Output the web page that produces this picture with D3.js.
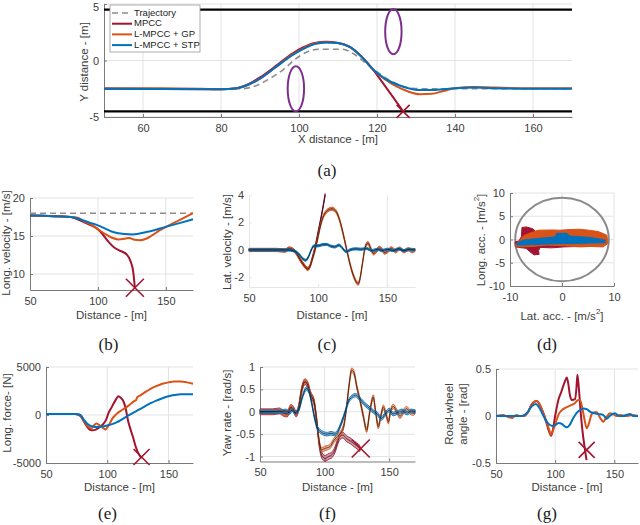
<!DOCTYPE html>
<html>
<head>
<meta charset="utf-8">
<script src="https://cdn.jsdelivr.net/npm/d3@7"></script>
<style>
body { margin: 0; background: #fff; }
svg text { font-family: "Liberation Sans", Arial, sans-serif; fill: #404040; }
svg text.cap { font-family: "Liberation Serif", "DejaVu Serif", serif; fill: #1a1a1a; }
</style>
</head>
<body>
<svg width="640" height="525"></svg>
<script>
var colMPCC = "#A2142F", colGP = "#D95319", colSTP = "#0072BD", colTraj = "#8c8c8c";

// (a) path in the X-Y plane
var aTraj = [[50,-2.5],[85,-2.5],[88,-2.35],[92,-1.7],[96,-0.8],[99,0.1],[102,0.75],[105,1.0],[111,1.0],[114,0.6],[117,-0.2],[120,-1.0],[123,-1.7],[126,-2.2],[129,-2.45],[132,-2.5],[170,-2.5]];
var aMPCC = [[50,-2.5],[80,-2.55],[84,-2.45],[87,-2.1],[90,-1.5],[94,-0.5],[98,0.55],[101,1.15],[104,1.55],[107,1.65],[110,1.55],[113,1.2],[116,0.35],[119,-0.8],[120,-1.27],[126.7,-4.5]];
var aGP = [[50,-2.45],[65,-2.45],[75,-2.5],[80,-2.55],[84,-2.45],[87,-2.15],[90,-1.6],[94,-0.6],[98,0.45],[101,1.05],[104,1.5],[107,1.62],[110,1.55],[113,1.2],[116,0.35],[119,-0.8],[122,-1.65],[125,-2.3],[128,-2.75],[131,-2.98],[134,-2.95],[137,-2.7],[140,-2.45],[145,-2.35],[150,-2.4],[160,-2.45],[170,-2.45]];
var aSTP = [[50,-2.5],[78,-2.55],[83,-2.5],[87,-2.15],[90,-1.6],[94,-0.6],[98,0.4],[101,1.0],[104,1.45],[107,1.6],[110,1.55],[113,1.2],[116,0.35],[119,-0.8],[122,-1.6],[125,-2.1],[128,-2.45],[131,-2.62],[135,-2.6],[140,-2.45],[145,-2.4],[150,-2.45],[160,-2.5],[170,-2.5]];
var aRoad = [4.5, -4.5];
var aObstacles = [[99.2,-2.5],[124.2,2.55]];
var aObsRadius = [2.1, 2.0];
var aCrash = [[126.7,-4.5]];
var legendNames = ["Trajectory", "MPCC", "L-MPCC + GP", "L-MPCC + STP"];

// (b) longitudinal velocity
var bRef = [[50,18],[170,18]];
var bMPCC = [[50,17.7],[80,17.5],[85,17.2],[90,16.8],[95,16.4],[100,15.9],[104,15.1],[108,14.2],[112,13.5],[117,13.0],[121,12.6],[124,11.7],[126,10.3],[127.2,8.2]];
var bGP = [[50,17.7],[80,17.5],[85,17.4],[90,16.9],[95,16.5],[100,15.9],[105,15.3],[110,14.8],[115,14.55],[120,14.65],[123,14.75],[127,14.5],[131,14.45],[135,14.6],[140,15.1],[145,15.7],[150,16.2],[160,17.1],[170,18.0]];
var bSTP = [[50,17.7],[80,17.5],[85,17.3],[90,17.0],[95,16.7],[100,16.4],[105,16.0],[110,15.6],[115,15.35],[120,15.25],[125,15.2],[130,15.3],[135,15.5],[140,15.7],[145,15.95],[150,16.2],[160,16.7],[170,17.2]];
var bCrash = [[127.2,8.2]];

// (c) lateral velocity
var cMPCC = [[50,0],[70,0],[76,-0.05],[79,0.1],[81,0.05],[84,-0.2],[87,-0.7],[90,-1.15],[92.5,-1.38],[94,-1.2],[96,-0.5],[98,0.3],[100,1.3],[102,2.3],[104,3.4],[105,4.0]];
var cGP = [[50,0],[70,0],[76,-0.05],[79,0.1],[81,0.05],[84,-0.2],[87,-0.7],[90,-1.15],[92.5,-1.38],[94,-1.2],[96,-0.6],[98,0.1],[100,1.0],[102,1.9],[104,2.5],[106,2.8],[108,2.95],[110,3.0],[112,2.9],[114,2.6],[116,2.0],[118,1.2],[120,0.3],[122,-0.6],[124,-1.4],[126,-2.0],[128,-2.4],[129,-2.45],[130,-2.2],[132,-1.0],[134,0.2],[136,0.5],[138,0.1],[140,-0.25],[142,-0.1],[144,0.15],[146,0.05],[148,-0.2],[150,-0.1],[153,0.12],[156,-0.1],[159,0.1],[162,-0.1],[165,0.05],[168,-0.08],[170,0]];
var cSTP = [[50,0],[78,0],[82,-0.05],[86,-0.3],[89,-0.65],[91,-0.75],[93,-0.5],[95,0],[97,0.3],[100,0.3],[103,0.38],[106,0.4],[109,0.28],[112,0.22],[115,0.35],[117,0.2],[119,-0.05],[120.6,-0.12],[123,0.0],[127,0.08],[131,0.05],[135,0.1],[139,-0.05],[143,0.05],[146,-0.05],[150,0.05],[154,-0.05],[158,0.08],[162,-0.05],[166,0.05],[170,0]];

// (d) friction circle
var dCircleR = [9];
var dMPCC = [[-9,-0.5],[-8.3,-0.3],[-7.8,0.6],[-7.7,2.6],[-6.8,2.7],[-5.6,2.3],[-4.6,1.2],[-3,1.0],[0,1.0],[3,0.8],[6,0.5],[7.9,0.2],[8.1,-1.2],[6,-1.4],[3,-1.5],[0.2,-1.6],[-2,-1.8],[-4.2,-1.7],[-4.5,-2.4],[-4.4,-3.2],[-5.4,-3.3],[-6.2,-2.6],[-6.9,-1.9],[-8.4,-1.7],[-9,-1.5]];
var dGP = [[-9,-1.2],[-8.2,-0.4],[-7.4,0.8],[-6.2,1.35],[-4.6,2.0],[-2,2.05],[-0.4,2.0],[1.5,2.15],[3.5,2.2],[5.5,1.95],[7.0,1.7],[8.6,0.95],[8.9,-0.8],[7.9,-1.6],[5.5,-1.5],[3.5,-1.6],[0.5,-1.35],[-2.9,-1.2],[-5,-1.4],[-6.2,-1.55],[-8.8,-1.55]];
var dSTP = [[-8.7,-0.82],[-7.4,-0.1],[-4.2,0.26],[-1.4,0.55],[-1.0,1.33],[0.9,1.33],[1.5,0.75],[3.5,0.6],[5.4,0.45],[8.3,-0.1],[8.3,-0.7],[5.5,-0.75],[3.5,-0.82],[0,-0.9],[-2.9,-0.97],[-5.5,-1.1],[-7.4,-1.2],[-8.7,-1.2]];

// (e) longitudinal force
var eMPCC = [[50,100],[74,100],[78,-100],[81,-700],[84,-1300],[86,-1550],[88,-1600],[91,-1500],[94,-1250],[97,-900],[99,-500],[101,200],[104,900],[107,1600],[109,1950],[111,1800],[113,1480],[115,700],[117,-600],[119,-1500],[121,-2300],[123,-3200],[125,-3900],[128,-4500]];
var eGP = [[50,100],[74,100],[78,0],[81,-600],[84,-1150],[87,-1400],[89,-1100],[91,-880],[93,-1000],[95,-1200],[97,-1400],[98.5,-1500],[100,-1300],[102,-900],[104,-400],[106,-100],[108,150],[110,350],[113,600],[116,850],[119,1150],[122,1450],[123.5,1550],[124.5,1850],[127,2050],[130,2300],[135,2700],[140,3000],[145,3250],[150,3400],[155,3480],[160,3480],[165,3400],[170,3250]];
var eSTP = [[50,100],[74,100],[78,0],[81,-500],[84,-950],[88,-1200],[92,-1250],[96,-1200],[100,-1080],[104,-950],[108,-750],[112,-450],[116,-150],[120,150],[125,500],[130,850],[135,1200],[140,1500],[145,1750],[150,1950],[155,2080],[160,2150],[170,2150]];
var eCrash = [[128,-4380]];

// (f) yaw rate
var fMPCC = [[50,0],[60,0],[65,0.02],[68,-0.03],[71,-0.05],[74,0.1],[76,0.05],[78,-0.05],[80,0.1],[82,0.45],[84.8,0.67],[87,0.6],[89,0.4],[92,0.2],[94,-0.25],[96,-0.75],[98,-0.98],[100.3,-1.04],[103,-1.0],[106,-0.95],[108,-0.85],[110,-0.68],[112,-0.55],[114,-0.52],[117,-0.6],[120,-0.65],[123,-0.72],[125,-0.76],[127.4,-0.82]];
var fGP = [[50,0],[60,0],[65,0.02],[68,-0.03],[71,-0.05],[74,0.1],[76,0.05],[78,-0.05],[80,0.1],[82,0.45],[84.8,0.67],[87,0.6],[89,0.4],[92,0.2],[94,-0.2],[95.5,-0.6],[97.8,-0.85],[100,-0.82],[104,-0.78],[107,-0.65],[109.5,-0.56],[113,-0.45],[115,-0.3],[117,0.1],[119,0.6],[121,0.93],[123,0.85],[125,0.55],[127.4,0.26],[130,-0.1],[132.6,-0.41],[135,0.0],[137.7,0.33],[139.5,0.0],[141.6,-0.33],[143.5,-0.1],[145.5,0.1],[147.5,-0.05],[149.4,-0.22],[151,0.0],[153.2,0.12],[156,0.0],[158.4,-0.1],[161,0.0],[163.5,0.07],[166,0.0],[168.7,-0.03],[170,0]];
var fSTP = [[50,0],[65,0],[70,0.02],[73,-0.02],[75,0.05],[77,-0.02],[80,0.05],[83,0.35],[86,0.52],[88,0.45],[90,0.2],[92,-0.1],[94,-0.33],[96,-0.42],[99,-0.48],[102,-0.5],[105,-0.48],[108,-0.5],[110,-0.45],[113,-0.25],[116,0.0],[118,0.2],[121,0.33],[124,0.37],[127,0.3],[130,0.2],[133,0.12],[136,0.05],[138,0.0],[141,-0.05],[144,-0.15],[147,-0.05],[150,0.04],[153,-0.05],[156,-0.02],[160,0.02],[164,-0.03],[167,0.02],[170,0]];
var fCrash = [[128,-0.82]];

// (g) road-wheel angle
var gMPCC = [[50,0],[72,0],[77,0.04],[80,0.12],[84.4,0.16],[87,0.12],[90,0.03],[92.8,-0.08],[95,-0.17],[96.5,-0.21],[98,-0.15],[100,0.0],[102.7,0.17],[105,0.25],[108,0.36],[109.8,0.41],[111,0.35],[112.5,0.22],[114,0.17],[116.8,0.18],[118,0.3],[118.8,0.44],[120,0.3],[121.5,0.05],[123,-0.15],[125.2,-0.36],[126.5,-0.47]];
var gGP = [[50,0],[56,0.01],[60,-0.01],[64,-0.02],[67,0.01],[70,0.0],[74,0.0],[77,0.04],[80,0.12],[84.4,0.16],[87,0.12],[90,0.03],[92.8,-0.06],[95,-0.15],[96.5,-0.2],[98,-0.16],[101.3,-0.04],[103,0.02],[105.5,0.06],[109,0.09],[112.6,0.11],[116,0.13],[119.6,0.17],[121,0.17],[123,0.08],[125,-0.05],[126.6,-0.13],[128,-0.1],[130.9,0.02],[133,0.04],[135.1,0.04],[138,-0.02],[140.7,-0.06],[143,-0.02],[146.3,0.03],[149,0.02],[152,0.0],[155,0.01],[160,0.0],[165,0.01],[170,0.0]];
var gSTP = [[50,0],[72,0],[76,0.03],[80,0.1],[83.8,0.128],[86,0.1],[89,0.03],[92.8,-0.06],[95,-0.09],[98.4,-0.106],[100,-0.1],[102.7,-0.075],[105,-0.08],[107,-0.1],[109.8,-0.12],[112,-0.1],[115,-0.03],[118,0.03],[121,0.064],[123.8,0.08],[127,0.07],[130,0.04],[133,0.03],[137,0.02],[140.7,0.01],[143.6,-0.03],[146,0.0],[150.6,0.03],[154,0.0],[157.7,0.0],[160,0.01],[163.3,0.02],[166,0.0],[170,0.0]];
var gCrash = [[126.6,-0.36]];

var svg = d3.select("svg");
var fmt = function(d) { return String(d); };

function panel(o) {
  var x = d3.scaleLinear().domain(o.xd).range(o.xr);
  var y = d3.scaleLinear().domain(o.yd).range(o.yr);
  var g = svg.append("g");
  var gc = o.gridColor || "#e3e3e3";
  g.selectAll(null).data(o.gx || []).enter().append("line")
    .attr("x1", function(d){ return x(d); }).attr("x2", function(d){ return x(d); })
    .attr("y1", o.yr[0]).attr("y2", o.yr[1]).attr("stroke", gc);
  g.selectAll(null).data(o.gy || []).enter().append("line")
    .attr("y1", function(d){ return y(d); }).attr("y2", function(d){ return y(d); })
    .attr("x1", o.xr[0]).attr("x2", o.xr[1]).attr("stroke", gc);

  var axCol = o.axisColor || "#7a7a7a";
  var bx = g.append("g").attr("transform", "translate(0," + o.yr[0] + ")")
    .call(d3.axisBottom(x).tickValues(o.xt).tickSizeInner(-3).tickSizeOuter(0).tickPadding(7).tickFormat(fmt));
  var by = g.append("g").attr("transform", "translate(" + o.xr[0] + ",0)")
    .call(d3.axisLeft(y).tickValues(o.yt).tickSizeInner(-3).tickSizeOuter(0).tickPadding(5).tickFormat(fmt));
  [bx, by].forEach(function(a) {
    a.select(".domain").attr("stroke", axCol);
    a.selectAll(".tick line").attr("stroke", axCol);
    a.selectAll("text").attr("font-size", 11).attr("font-family", null).style("fill", "#404040");
  });
  return { g: g, x: x, y: y, o: o, by: by };
}

function labels(p, xl, yl, capt) {
  var o = p.o;
  var cx = (o.xr[0] + o.xr[1]) / 2;
  p.g.append("text").attr("x", cx + (o.xlDx || 0)).attr("y", o.xlY).attr("text-anchor", "middle")
    .attr("font-size", 11.5).attr("dominant-baseline", "middle").text(xl);
  var cy = o.ylY;
  (Array.isArray(yl) ? yl : [yl]).forEach(function(t, i) {
    p.g.append("text").attr("transform", "translate(" + o.ylX[i] + "," + cy + ") rotate(-90)")
      .attr("text-anchor", "middle").attr("dominant-baseline", "middle").attr("font-size", 11.5).text(t);
  });
  p.g.append("text").attr("class", "cap").attr("x", cx + (o.capDx || 0)).attr("y", o.capY)
    .attr("text-anchor", "middle").attr("font-size", 17).text(capt);
}

function line(p, data, col, w, dash) {
  var l = d3.line().x(function(d){ return p.x(d[0]); }).y(function(d){ return p.y(d[1]); }).curve(d3.curveMonotoneX);
  p.g.append("path").attr("d", l(data)).attr("fill", "none").attr("stroke", col)
    .attr("stroke-width", w).attr("stroke-dasharray", dash || null).attr("stroke-linejoin", "round");
}

function band(p, data, w, col, op) {
  var a = d3.area().x(function(d){ return p.x(d[0]); })
    .y0(function(d){ return p.y(d[1] - w); }).y1(function(d){ return p.y(d[1] + w); })
    .curve(d3.curveMonotoneX);
  p.g.append("path").attr("d", a(data)).attr("fill", col).attr("fill-opacity", op)
    .attr("stroke", col).attr("stroke-width", 0.9);
  line(p, data, "#111", 0.7);
}

function crash(p, pts, s) {
  pts.forEach(function(d) {
    var cx = p.x(d[0]), cy = p.y(d[1]);
    p.g.append("path").attr("d", "M" + (cx - s) + "," + (cy - s) + "L" + (cx + s) + "," + (cy + s) +
      "M" + (cx - s) + "," + (cy + s) + "L" + (cx + s) + "," + (cy - s))
      .attr("stroke", colMPCC).attr("stroke-width", 1.6).attr("fill", "none");
  });
}

// ---- (a)
var pa = panel({ xd: [50,170], xr: [104,572], yd: [-5,5], yr: [117,4],
  xt: [60,80,100,120,140,160], yt: [-5,0,5], gx: [60,80,100,120,140,160], gy: [-5,0,5],
  xlY: 140, ylX: [85], ylY: 62, capY: 176, capDx: -11 });
// keep the top tick label inside the picture
pa.by.selectAll(".tick text").filter(function(d){ return d === 5; }).attr("dy", "0.6em");
pa.g.selectAll(null).data(aRoad).enter().append("line")
  .attr("x1", pa.x(50)).attr("x2", pa.x(170))
  .attr("y1", function(d){ return pa.y(d); }).attr("y2", function(d){ return pa.y(d); })
  .attr("stroke", "#000").attr("stroke-width", 2.2);
line(pa, aTraj, colTraj, 1.6, "6,4");
line(pa, aMPCC, colMPCC, 2);
line(pa, aGP, colGP, 2);
line(pa, aSTP, colSTP, 2);
pa.g.selectAll(null).data(aObstacles).enter().append("ellipse")
  .attr("cx", function(d){ return pa.x(d[0]); }).attr("cy", function(d){ return pa.y(d[1]); })
  .attr("rx", pa.x(50 + aObsRadius[0]) - pa.x(50)).attr("ry", pa.y(0) - pa.y(aObsRadius[1]))
  .attr("fill", "none").attr("stroke", "#7E2F8E").attr("stroke-width", 2);
crash(pa, aCrash, 6.5);
labels(pa, "X distance - [m]", "Y distance - [m]", "(a)");

// legend
var lg = pa.g.append("g").attr("transform", "translate(110,5)");
lg.append("rect").attr("width", 90).attr("height", 47).attr("fill", "#fff").attr("stroke", "#9a9a9a").attr("stroke-width", 0.8);
var lcols = [colTraj, colMPCC, colGP, colSTP];
legendNames.forEach(function(n, i) {
  var yy = 8 + i * 10.7;
  lg.append("line").attr("x1", 2).attr("x2", 22).attr("y1", yy).attr("y2", yy)
    .attr("stroke", lcols[i]).attr("stroke-width", i ? 2 : 1.6).attr("stroke-dasharray", i ? null : "6,4");
  lg.append("text").attr("x", 24).attr("y", yy).attr("dominant-baseline", "middle")
    .attr("font-size", 9.5).style("fill", "#222").text(n);
});

// ---- (b)
var pb = panel({ xd: [50,170], xr: [30,193], yd: [7.9,20], yr: [290,198],
  xt: [50,100,150], yt: [10,15,20], gx: [100,150], gy: [10,15,20],
  xlY: 316, ylX: [7], ylY: 243, capY: 350, capDx: -3 });
line(pb, bRef, colTraj, 1.6, "6,4");
line(pb, bMPCC, colMPCC, 2);
line(pb, bGP, colGP, 2);
line(pb, bSTP, colSTP, 2);
crash(pb, bCrash, 9);
labels(pb, "Distance - [m]", "Long. velocity - [m/s]", "(b)");

// ---- (c)
var pc = panel({ xd: [50,170], xr: [249,415], yd: [-2.7,4], yr: [287,195],
  xt: [50,100,150], yt: [-2,0,2,4], gx: [150], gy: [], axisColor: "#e6e6e6", gridColor: "#e6e6e6",
  xlY: 316, ylX: [228], ylY: 242, capY: 350, capDx: -5 });
band(pc, cMPCC, 0.1, colMPCC, 0.75);
band(pc, cGP, 0.12, colGP, 0.75);
band(pc, cSTP, 0.08, colSTP, 0.75);
labels(pc, "Distance - [m]", "Lat. velocity - [m/s]", "(c)");

// ---- (d)
var pd = panel({ xd: [-10,10], xr: [510,614], yd: [-10,10], yr: [286,193],
  xt: [-10,0,10], yt: [-10,-5,0,5,10], gx: [0,10], gy: [-5,0,5,10],
  xlY: 316, ylX: [482], ylY: 240, capY: 350, capDx: -15 });
pd.g.selectAll(null).data(dCircleR).enter().append("ellipse")
  .attr("cx", pd.x(0)).attr("cy", pd.y(0))
  .attr("rx", function(r){ return pd.x(r) - pd.x(0); }).attr("ry", function(r){ return pd.y(0) - pd.y(r); })
  .attr("fill", "none").attr("stroke", "#8a8a8a").attr("stroke-width", 2);
var poly = d3.line().x(function(d){ return pd.x(d[0]); }).y(function(d){ return pd.y(d[1]); }).curve(d3.curveLinearClosed);
[[dMPCC, colMPCC], [dGP, colGP], [dSTP, colSTP]].forEach(function(s) {
  pd.g.append("path").attr("d", poly(s[0])).attr("fill", s[1]).attr("stroke", s[1]).attr("stroke-width", 1)
    .attr("stroke-linejoin", "round");
});
// d labels with superscripts
var dxl = pd.g.append("text").attr("x", 562).attr("y", 317).attr("text-anchor", "middle")
  .attr("dominant-baseline", "middle").attr("font-size", 11.5);
dxl.append("tspan").text("Lat. acc. - [m/s");
dxl.append("tspan").attr("dy", -5).attr("font-size", 8).text("2");
dxl.append("tspan").attr("dy", 5).text("]");
var dyl = pd.g.append("text").attr("transform", "translate(482,240) rotate(-90)").attr("text-anchor", "middle")
  .attr("dominant-baseline", "middle").attr("font-size", 11.5);
dyl.append("tspan").text("Long. acc. - [m/s");
dyl.append("tspan").attr("dy", -5).attr("font-size", 8).text("2");
dyl.append("tspan").attr("dy", 5).text("]");
pd.g.append("text").attr("class", "cap").attr("x", 547).attr("y", 350).attr("text-anchor", "middle").attr("font-size", 17).text("(d)");

// ---- (e)
var pe = panel({ xd: [50,170], xr: [46,193], yd: [-5000,5000], yr: [463,367],
  xt: [50,100,150], yt: [-5000,0,5000], gx: [100,150], gy: [0,5000],
  xlY: 488, ylX: [8], ylY: 413, capY: 519, capDx: -12 });
line(pe, eMPCC, colMPCC, 2);
line(pe, eGP, colGP, 2);
line(pe, eSTP, colSTP, 2);
crash(pe, eCrash, 8);
labels(pe, "Distance - [m]", "Long. force- [N]", "(e)");

// ---- (f)
var pf = panel({ xd: [50,170], xr: [260,415], yd: [-1.11,1], yr: [461.5,367],
  xt: [50,100,150], yt: [-1,-0.5,0,0.5,1], gx: [100,150], gy: [-1,-0.5,0,0.5,1],
  xlY: 488, ylX: [228], ylY: 413, capY: 519, capDx: -10 });
band(pf, fMPCC, 0.065, colMPCC, 0.45);
band(pf, fGP, 0.05, colGP, 0.45);
band(pf, fSTP, 0.04, colSTP, 0.45);
crash(pf, fCrash, 9);
labels(pf, "Distance - [m]", "Yaw rate - [rad/s]", "(f)");

// ---- (g)
var pgg = panel({ xd: [50,170], xr: [496,638], yd: [-0.5,0.5], yr: [463,369],
  xt: [50,100,150], yt: [-0.5,0,0.5], gx: [100,150], gy: [0,0.5],
  xlY: 488, ylX: [450,464], ylY: 414, capY: 519, capDx: -20 });
line(pgg, gMPCC, colMPCC, 2);
line(pgg, gGP, colGP, 2);
line(pgg, gSTP, colSTP, 2);
crash(pgg, gCrash, 8);
labels(pgg, "Distance - [m]", ["Road-wheel", "angle - [rad]"], "(g)");
</script>
</body>
</html>
